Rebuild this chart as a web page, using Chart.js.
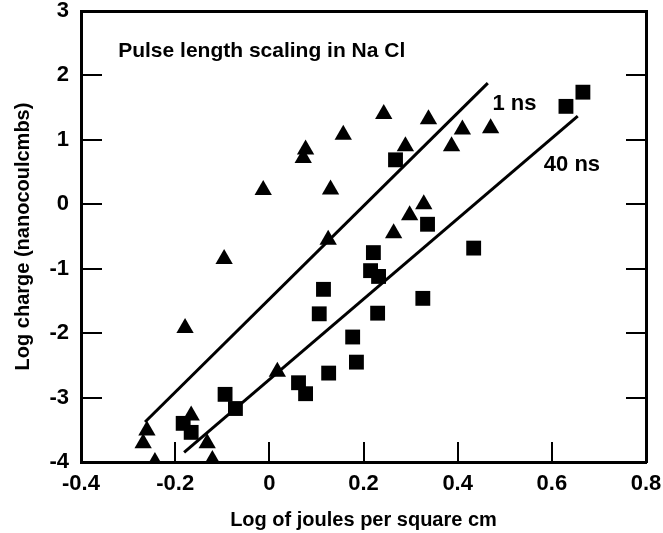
<!DOCTYPE html>
<html>
<head>
<meta charset="utf-8">
<script src="https://cdn.jsdelivr.net/npm/chart.js@4.4.1/dist/chart.umd.min.js"></script>
<style>
  html, body { margin: 0; padding: 0; background: #fff; }
  #chart { display: block; }
</style>
</head>
<body>
<canvas id="chart" width="663" height="533"></canvas>
<script>
// data
const ns1X = [-0.26, -0.268, -0.243, -0.166, -0.132, -0.121, -0.179, -0.096, 0.017, -0.013, 0.077, 0.072, 0.157, 0.13, 0.243, 0.338, 0.289, 0.387, 0.41, 0.47, 0.125, 0.328, 0.298, 0.264];
const ns1Y = [-3.51, -3.71, -4.0, -3.28, -3.71, -3.97, -1.92, -0.85, -2.6, 0.22, 0.85, 0.72, 1.08, 0.23, 1.4, 1.32, 0.9, 0.9, 1.16, 1.18, -0.55, 0.0, -0.17, -0.45];
const ns40X = [-0.183, -0.166, -0.094, -0.072, 0.062, 0.077, 0.126, 0.106, 0.115, 0.177, 0.185, 0.23, 0.221, 0.215, 0.232, 0.326, 0.434, 0.268, 0.336, 0.63, 0.666];
const ns40Y = [-3.40, -3.54, -2.95, -3.17, -2.77, -2.94, -2.62, -1.70, -1.32, -2.06, -2.45, -1.69, -0.75, -1.03, -1.12, -1.46, -0.68, 0.69, -0.31, 1.52, 1.74];
const fit1X = [-0.264, 0.464];
const fit1Y = [-3.38, 1.88];
const fit40X = [-0.181, 0.655];
const fit40Y = [-3.85, 1.37];

const xTickValues = [-0.4, -0.2, 0, 0.2, 0.4, 0.6, 0.8];
const xTickLabels = ['-0.4', '-0.2', '0', '0.2', '0.4', '0.6', '0.8'];
const yTickValues = [-4, -3, -2, -1, 0, 1, 2, 3];
const yTickLabels = ['-4', '-3', '-2', '-1', '0', '1', '2', '3'];

const toPts = (xs, ys) => xs.map((x, i) => ({ x: x, y: ys[i] }));

const FONT = '"Liberation Sans", Arial, sans-serif';

// box, inward ticks and the text inside the plot
const framePlugin = {
    id: 'frame',
    afterDraw(chart) {
        const ctx = chart.ctx;
        const a = chart.chartArea;
        const xs = chart.scales.x, ys = chart.scales.y;
        const L = Math.round(a.left), R = Math.round(a.right);
        const T = Math.round(a.top), B = Math.round(a.bottom);
        ctx.save();
        ctx.globalAlpha = 1;
        ctx.globalCompositeOperation = 'source-over';
        ctx.fillStyle = '#000';
        // frame
        ctx.fillRect(L - 1, T - 1, R - L + 2, 3);
        ctx.fillRect(L - 1, B - 1, R - L + 2, 3);
        ctx.fillRect(L - 1, T - 1, 3, B - T + 2);
        ctx.fillRect(R - 1, T - 1, 3, B - T + 2);
        // inward ticks
        yTickValues.slice(1, -1).forEach(v => {
            const py = Math.round(ys.getPixelForValue(v));
            ctx.fillRect(L, py - 1, 21, 2);
            ctx.fillRect(R - 20, py - 1, 21, 2);
        });
        xTickValues.slice(1, -1).forEach(v => {
            const px = Math.round(xs.getPixelForValue(v));
            ctx.fillRect(px - 1, B - 20, 2, 21);
        });

        ctx.textBaseline = 'alphabetic';
        ctx.textAlign = 'left';
        ctx.font = 'bold 21px ' + FONT;
        ctx.fillText('Pulse length scaling in Na Cl', xs.getPixelForValue(-0.321), ys.getPixelForValue(2.28));
        ctx.font = 'bold 22px ' + FONT;
        ctx.fillText('1 ns', xs.getPixelForValue(0.474), ys.getPixelForValue(1.46));
        ctx.fillText('40 ns', xs.getPixelForValue(0.583), ys.getPixelForValue(0.51));
        ctx.restore();
    }
};

new Chart(document.getElementById('chart'), {
    type: 'scatter',
    data: {
        datasets: [
            {
                label: '1 ns',
                data: toPts(ns1X, ns1Y),
                pointStyle: 'triangle',
                pointRadius: 10,
                backgroundColor: '#000',
                borderWidth: 0
            },
            {
                label: '40 ns',
                data: toPts(ns40X, ns40Y),
                pointStyle: 'rect',
                pointRadius: 10.5,
                backgroundColor: '#000',
                borderWidth: 0
            },
            {
                label: '1 ns fit',
                type: 'line',
                data: toPts(fit1X, fit1Y),
                showLine: true,
                pointRadius: 0,
                borderColor: '#000',
                borderWidth: 3
            },
            {
                label: '40 ns fit',
                type: 'line',
                data: toPts(fit40X, fit40Y),
                showLine: true,
                pointRadius: 0,
                borderColor: '#000',
                borderWidth: 3
            }
        ]
    },
    options: {
        responsive: false,
        animation: false,
        devicePixelRatio: 1,
        layout: { padding: { top: 11, right: 17, left: 0, bottom: 0 } },
        plugins: {
            legend: { display: false },
            tooltip: { enabled: false }
        },
        scales: {
            x: {
                type: 'linear',
                min: -0.4,
                max: 0.8,
                grid: { display: false, drawTicks: false },
                border: { display: false },
                afterBuildTicks: s => { s.ticks = xTickValues.map(v => ({ value: v })); },
                afterFit: s => { s.height = 71; s.paddingLeft = 0; s.paddingRight = 0; },
                ticks: {
                    color: '#000',
                    padding: 9,
                    maxRotation: 0,
                    autoSkip: false,
                    font: { family: FONT, size: 22, weight: 'bold' },
                    callback: (v, i) => xTickLabels[i]
                },
                title: {
                    display: true,
                    text: 'Log of joules per square cm',
                    color: '#000',
                    padding: { top: 0, bottom: 1 },
                    font: { family: FONT, size: 20, weight: 'bold' }
                }
            },
            y: {
                type: 'linear',
                min: -4,
                max: 3,
                grid: { display: false, drawTicks: false },
                border: { display: false },
                afterBuildTicks: s => { s.ticks = yTickValues.map(v => ({ value: v })); },
                afterFit: s => { s.width = 81; s.paddingTop = 0; s.paddingBottom = 0; },
                ticks: {
                    color: '#000',
                    padding: 12,
                    autoSkip: false,
                    font: { family: FONT, size: 22, weight: 'bold' },
                    callback: (v, i) => yTickLabels[i]
                },
                title: {
                    display: true,
                    text: 'Log charge (nanocoulcmbs)',
                    color: '#000',
                    padding: { top: 11, bottom: 0 },
                    font: { family: FONT, size: 20, weight: 'bold' }
                }
            }
        }
    },
    plugins: [framePlugin]
});
</script>
</body>
</html>
